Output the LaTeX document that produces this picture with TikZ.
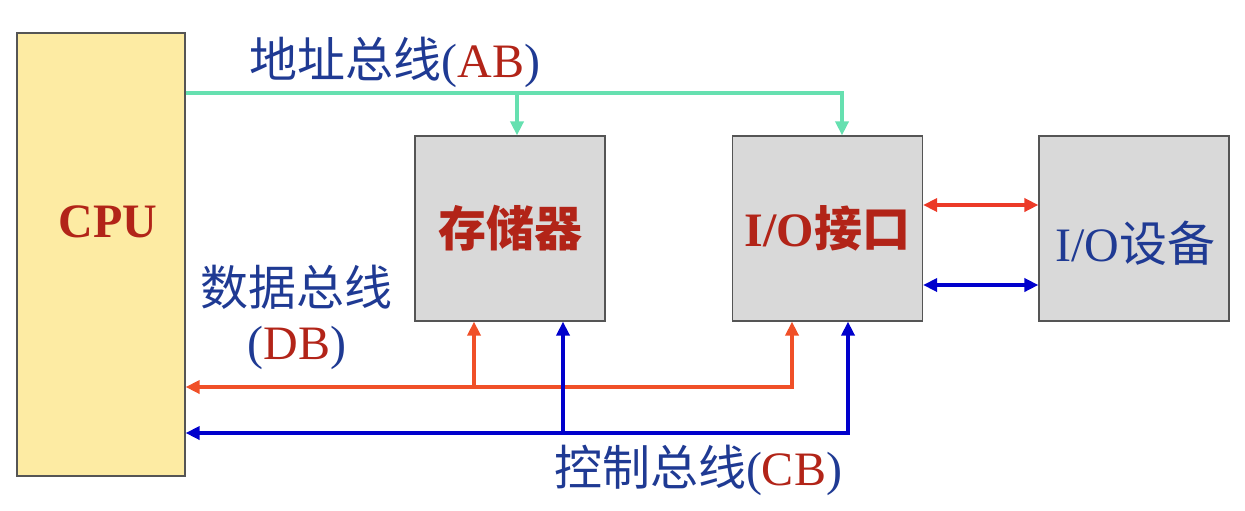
\documentclass[tikz,border=0pt]{standalone}
\usepackage{fontspec}
\setmainfont{Liberation Serif}
\newfontfamily\cjk{Noto Sans CJK SC}
\usetikzlibrary{arrows.meta}

\definecolor{cpuyellow}{HTML}{FDEBA3}
\definecolor{unitgray}{HTML}{D9D9D9}
\definecolor{unitline}{HTML}{555555}
\definecolor{abgreen}{HTML}{66E0B0}
\definecolor{dborange}{HTML}{F05028}
\definecolor{iored}{HTML}{EC3A28}
\definecolor{cbblue}{HTML}{0000CC}
\definecolor{txtblue}{HTML}{1F3A93}
\definecolor{txtred}{HTML}{B22418}

\newcommand{\bigfont}{\fontsize{24pt}{28pt}\selectfont}
\newcommand{\busname}[2]{{\cjk\color{txtblue}#1}{\color{txtblue}(}{\color{txtred}#2}{\color{txtblue})}}

\tikzset{
    unitbox/.style={draw=unitline, fill=unitgray, line width=0.6pt,
        minimum width=95pt, minimum height=92.5pt, inner sep=0pt},
    unitname/.style={font=\bigfont\bfseries, text=txtred},
    buslabel/.style={font=\bigfont, inner sep=0pt},
    tip/.tip={Triangle[length=7pt, width=6.5pt]},
    bus/.style={line width=2pt},
}

\begin{document}
\begin{tikzpicture}[x=0.5pt, y=-0.5pt]

    \useasboundingbox (0,0) rectangle (1245,510);

    % CPU and the three units
    \node[draw=unitline, fill=cpuyellow, line width=0.6pt, inner sep=0pt,
        minimum width=84pt, minimum height=221.5pt] (cpu) at (101,254.5) {};
    \node[unitname] (cpuname) at (108,222) {CPU};

    \node[unitbox, unitname] (mem) at (510,228.5) {\cjk\bfseries 存储器};
    \node[unitbox, unitname] (io) at (827.5,228.5) {I/O{\cjk\bfseries 接口}};
    \node[unitbox] (dev) at (1134,228.5) {};
    \node[font=\bigfont, text=txtblue] (devname) at (1135,243) {I/O{\cjk 设备}};

    % Bus corners and branch points
    \coordinate (abR) at (842,93);
    \coordinate (abM) at (517,93);
    \coordinate (dbR) at (792,387);
    \coordinate (dbM) at (474,387);
    \coordinate (cbR) at (848,433);
    \coordinate (cbM) at (563,433);

    % Address bus
    \draw[bus, abgreen, -tip] (cpu.east |- abR) -- (abR) -- (io.north -| abR);
    \draw[bus, abgreen, -tip] (abM) -- (mem.north -| abM);

    % Data bus
    \draw[bus, dborange, tip-tip] (io.south -| dbR) -- (dbR) -- (cpu.east |- dbR);
    \draw[bus, dborange, -tip] (dbM) -- (mem.south -| dbM);

    % Control bus
    \draw[bus, cbblue, tip-tip] (io.south -| cbR) -- (cbR) -- (cpu.east |- cbR);
    \draw[bus, cbblue, -tip] (cbM) -- (mem.south -| cbM);

    % Links between interface and device
    \draw[bus, iored, tip-tip] (io.east |- 0,205) -- (dev.west |- 0,205);
    \draw[bus, cbblue, tip-tip] (io.east |- 0,285) -- (dev.west |- 0,285);

    % Bus labels
    \node[buslabel] (ablabel) at (395,62) {\busname{地址总线}{AB}};
    \node[buslabel, text=txtblue] (dblabel) at (296,287) {\cjk 数据总线};
    \node[buslabel] (dbname) at (297,348) {{\color{txtblue}(}{\color{txtred}DB}{\color{txtblue})}};
    \node[buslabel] (cblabel) at (698,470) {\busname{控制总线}{CB}};

\end{tikzpicture}
\end{document}
